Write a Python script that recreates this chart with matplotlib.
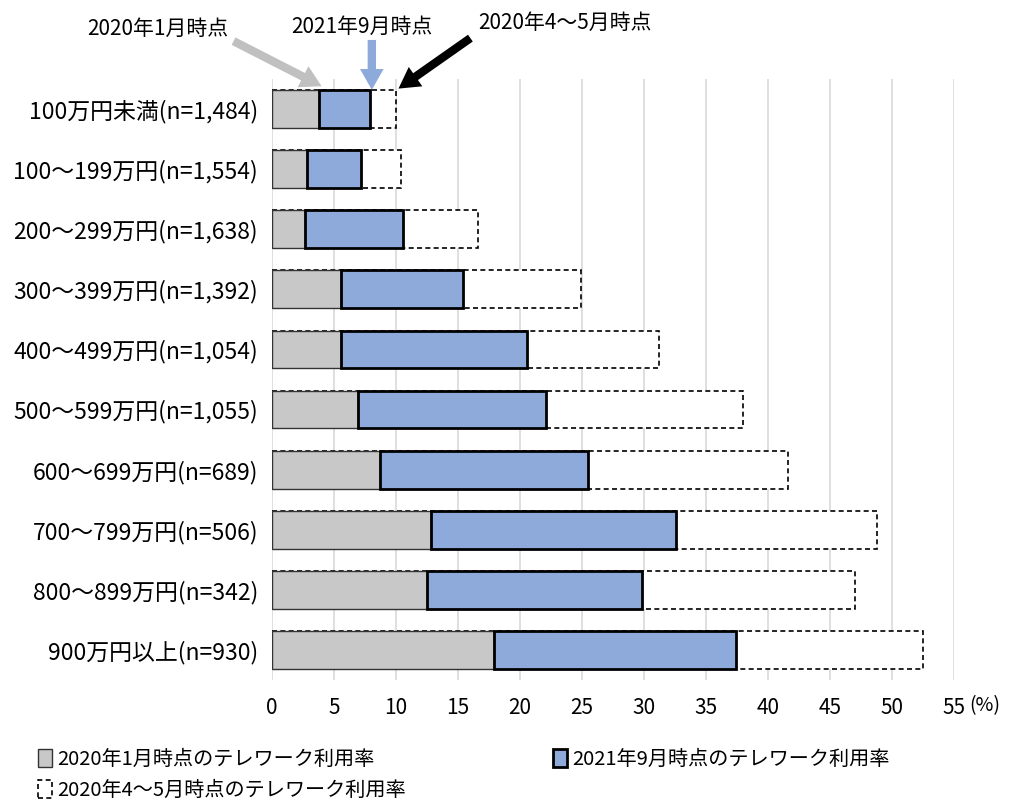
import matplotlib
matplotlib.use("Agg")
import matplotlib.pyplot as plt
import numpy as np

plt.rcParams['font.family'] = ['Noto Sans CJK JP', 'DejaVu Sans']

# data (%)
labels = ['100万円未満(n=1,484)', '100～199万円(n=1,554)', '200～299万円(n=1,638)',
          '300～399万円(n=1,392)', '400～499万円(n=1,054)', '500～599万円(n=1,055)',
          '600～699万円(n=689)', '700～799万円(n=506)', '800～899万円(n=342)',
          '900万円以上(n=930)']
jan2020 = [3.8, 2.8, 2.7, 5.6, 5.6, 6.9, 8.7, 12.8, 12.5, 17.9]
sep2021 = [7.9, 7.2, 10.6, 15.4, 20.6, 22.1, 25.5, 32.6, 29.8, 37.4]
apr_may2020 = [10.0, 10.4, 16.6, 24.9, 31.2, 38.0, 41.6, 48.8, 47.0, 52.5]
xticks = np.arange(0, 60, 5)

gray = '#c8c8c8'
blue = '#8eaadb'

fig = plt.figure(figsize=(10.15, 8.02), dpi=100)
ax = fig.add_axes([272/1015, 1-680/802, (954-272)/1015, (680-79)/802])

y = np.arange(len(labels))
h = 0.63
jan = np.array(jan2020)
sep = np.array(sep2021)

b3 = ax.barh(y, apr_may2020, height=h, color='white', edgecolor='black',
             linestyle=(0, (3, 2)), linewidth=1.2, zorder=2)
b1 = ax.barh(y, jan, height=h, color=gray, edgecolor='#333333', linewidth=1.0, zorder=3)
b2 = ax.barh(y, sep - jan, left=jan, height=h, color=blue, edgecolor='black',
             linewidth=2.0, zorder=4)

ax.set_xlim(0, 55)
ax.set_ylim(len(labels) - 0.5, -0.5)
ax.set_yticks(y)
ax.set_yticklabels(labels, fontsize=16.5)
ax.set_xticks(xticks)
ax.set_xticklabels([str(v) for v in xticks], fontsize=15)
ax.tick_params(length=0, pad=10)
ax.tick_params(axis='x', pad=12)
ax.grid(axis='x', color='#d9d9d9', linewidth=1.2, zorder=0)
ax.set_axisbelow(True)
for s in ax.spines.values():
    s.set_visible(False)

fig.text(985/1015, 1-706/802, '(%)', fontsize=14, ha='center', va='center')

# annotations
def arrow(x0, y0, x1, y1, c):
    ax.annotate('', xy=(x1, y1), xytext=(x0, y0), annotation_clip=False,
                arrowprops=dict(arrowstyle='simple,head_width=0.85,head_length=0.75,tail_width=0.3',
                                color=c, lw=0, shrinkA=0, shrinkB=0, mutation_scale=20))

arrow(-3.1, -1.13, 4.0, -0.38, '#c0c0c0')
arrow(8.05, -1.15, 8.05, -0.32, blue)
arrow(16.0, -1.18, 10.2, -0.34, 'black')
fig.text(158/1015, 1-29/802, '2020年1月時点', fontsize=15, ha='center', va='center')
fig.text(362/1015, 1-27/802, '2021年9月時点', fontsize=15, ha='center', va='center')
fig.text(565/1015, 1-23/802, '2020年4～5月時点', fontsize=15, ha='center', va='center')

leg = fig.legend([b1, b3, b2],
                 ['2020年1月時点のテレワーク利用率', '2020年4～5月時点のテレワーク利用率',
                  '2021年9月時点のテレワーク利用率'],
                 ncol=2, loc='upper left', bbox_to_anchor=(38/1015, 1-749/802),
                 frameon=False, fontsize=14.5, handlelength=0.7, handleheight=1.0,
                 handletextpad=0.25, columnspacing=7.3, labelspacing=0.5,
                 borderaxespad=0, borderpad=0)

fig.savefig('out.png', dpi=100)
